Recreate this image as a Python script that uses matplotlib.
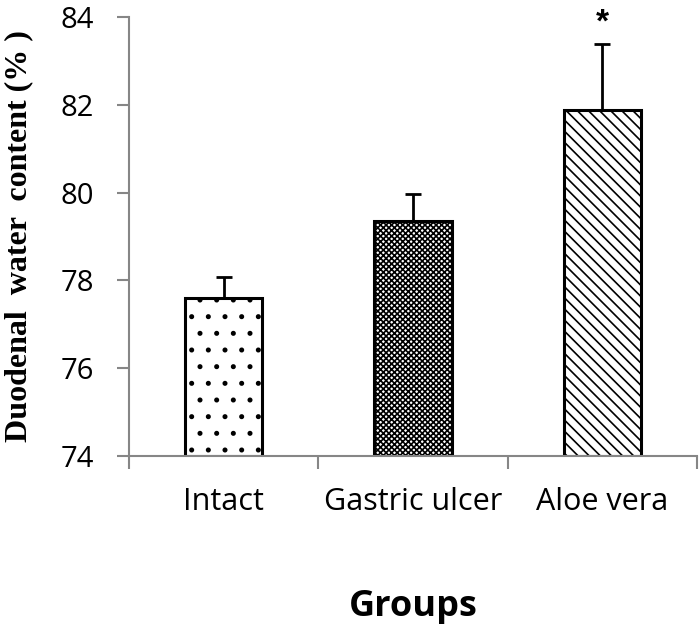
import matplotlib
matplotlib.use("Agg")
import matplotlib.pyplot as plt
import numpy as np

categories = ["Intact", "Gastric ulcer", "Aloe vera"]
means = [77.6, 79.35, 81.87]
errors = [0.48, 0.62, 1.52]
yticks = [74, 76, 78, 80, 82, 84]
hatches = [".", "xxxxxx", "\\\\\\"]

plt.rcParams['hatch.linewidth'] = 1.2
fig = plt.figure(figsize=(7.0, 6.24), dpi=100)
ax = fig.add_axes([0.184, 0.269, 0.812, 0.704])

x = np.arange(len(categories))
for i in range(len(categories)):
    ax.bar(x[i], means[i] - 74, bottom=74, width=0.41, color="white",
           edgecolor="black", linewidth=2.2, hatch=hatches[i], zorder=2)
ax.errorbar(x, means, yerr=[np.zeros(len(errors)), errors], fmt="none",
            ecolor="black", elinewidth=2, capsize=6, capthick=2, zorder=3)
ax.text(x[2], means[2] + errors[2] + 0.12, "*", ha="center", va="bottom",
        fontsize=24, fontweight="bold", family="Liberation Sans")

ax.set_xlim(-0.5, 2.5)
ax.set_ylim(74, 84)
ax.set_yticks(yticks)
ax.set_yticklabels([str(t) for t in yticks], family="Open Sans", fontsize=21)
ax.set_xticks(x)
ax.set_xticklabels(categories, family="Open Sans", fontsize=22)
ax.set_xticks([-0.5, 0.5, 1.5, 2.5], minor=True)
ax.tick_params(axis="x", which="major", length=0, pad=22)
ax.tick_params(axis="x", which="minor", length=9, width=1.5, color="#868686", direction="out")
ax.tick_params(axis="y", length=9, width=1.5, color="#868686", direction="out", pad=16)

for s in ["top", "right"]:
    ax.spines[s].set_visible(False)
for s in ["left", "bottom"]:
    ax.spines[s].set_color("#868686")
    ax.spines[s].set_linewidth(1.5)

ax.set_xlabel("Groups", family="Open Sans", fontweight="bold", fontsize=26, labelpad=52)
ax.set_ylabel("Duodenal  water  content (% )", family="Liberation Serif",
              fontweight="bold", fontsize=23, labelpad=20)

fig.savefig("out.png", dpi=100)
